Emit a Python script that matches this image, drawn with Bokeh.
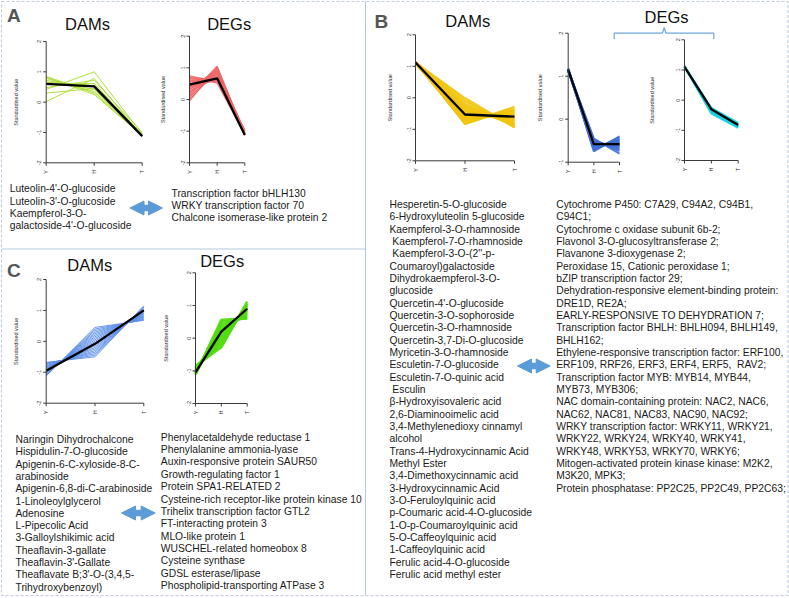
import math
from bokeh.plotting import figure
from bokeh.models import Range1d, Arrow, NormalHead
from bokeh.core.properties import value
from bokeh.embed import file_html
from bokeh.resources import INLINE

FONT = "Liberation Sans"
NB = "\u00a0"

# Sampling stages on the x axis of every profile chart
stages = ["Y", "H", "T"]

# ---- Panel A: profiles (standardised values at Y, H, T) ----
a_dam_profiles = [
    [0.85, 0.30, -1.12], [0.82, 0.25, -1.10], [0.78, 0.35, -1.08],
    [0.72, 0.42, -1.12], [0.66, 0.55, -1.05], [0.58, 0.62, -1.10],
    [0.48, 0.72, -1.00], [0.42, 1.00, -1.05], [0.30, 0.45, -1.10],
    [0.02, 0.78, -1.12],
]
a_dam_center = [0.60, 0.52, -1.12]

a_deg_profiles = [
    [0.75, 0.55, -1.10], [0.72, 0.60, -1.05], [0.70, 0.52, -1.12],
    [0.66, 0.62, -0.98], [0.62, 0.58, -1.08], [0.60, 0.70, -1.12],
    [0.57, 0.65, -1.02], [0.54, 0.75, -1.10], [0.50, 0.68, -0.96],
    [0.48, 0.80, -1.12], [0.45, 0.72, -1.06], [0.42, 0.85, -1.10],
    [0.40, 0.62, -1.00], [0.36, 0.90, -1.12], [0.33, 0.78, -1.04],
    [0.30, 0.95, -1.10], [0.26, 0.70, -1.12], [0.22, 1.00, -1.08],
    [0.18, 0.88, -0.98], [0.14, 1.05, -1.12], [0.10, 0.82, -1.06],
    [0.05, 0.98, -1.10], [0.00, 0.92, -1.12], [-0.05, 1.02, -1.04],
]
a_deg_center = [0.47, 0.67, -1.12]

# ---- Panel B ----
b_dam_profiles = [
    [1.15, -0.85, -0.30], [1.12, -0.82, -0.35], [1.10, -0.80, -0.28],
    [1.14, -0.78, -0.40], [1.08, -0.75, -0.38], [1.12, -0.72, -0.45],
    [1.16, -0.70, -0.42], [1.10, -0.68, -0.50], [1.13, -0.66, -0.48],
    [1.09, -0.64, -0.55], [1.15, -0.62, -0.52], [1.11, -0.60, -0.58],
    [1.07, -0.58, -0.60], [1.13, -0.56, -0.62], [1.10, -0.54, -0.66],
    [1.14, -0.52, -0.64], [1.12, -0.50, -0.70], [1.08, -0.48, -0.68],
    [1.16, -0.45, -0.74], [1.11, -0.42, -0.72], [1.09, -0.40, -0.78],
    [1.13, -0.37, -0.80], [1.10, -0.33, -0.84], [1.12, -0.30, -0.82],
    [1.15, -0.26, -0.88], [1.08, -0.22, -0.86], [1.11, -0.18, -0.92],
    [1.14, -0.12, -0.90], [1.10, -0.06, -0.95], [1.12, 0.00, -0.93],
]
b_dam_center = [1.12, -0.53, -0.60]

b_deg1_profiles = [
    [1.18, -0.75, -0.40], [1.16, -0.72, -0.45], [1.14, -0.70, -0.42],
    [1.17, -0.68, -0.48], [1.13, -0.66, -0.50], [1.15, -0.64, -0.52],
    [1.12, -0.62, -0.55], [1.16, -0.60, -0.56], [1.14, -0.58, -0.60],
    [1.17, -0.56, -0.62], [1.13, -0.54, -0.64], [1.15, -0.52, -0.66],
    [1.16, -0.50, -0.70], [1.12, -0.48, -0.74], [1.14, -0.45, -0.80],
]
b_deg1_center = [1.15, -0.58, -0.58]

b_deg2_profiles = [
    [1.12, -0.45, -0.92], [1.10, -0.42, -0.88], [1.14, -0.38, -0.85],
    [1.09, -0.35, -0.90], [1.11, -0.33, -0.80], [1.13, -0.30, -0.86],
    [1.10, -0.28, -0.78], [1.12, -0.25, -0.75],
]
b_deg2_center = [1.10, -0.30, -0.82]

# ---- Panel C ----
c_dam_profiles = [
    [-0.68, -0.50, 1.15], [-0.70, -0.45, 1.12], [-0.72, -0.40, 1.10],
    [-0.75, -0.35, 1.08], [-0.78, -0.30, 1.05], [-0.80, -0.25, 1.02],
    [-0.83, -0.20, 1.00], [-0.86, -0.15, 0.98], [-0.88, -0.10, 0.95],
    [-0.90, -0.05, 0.92], [-0.93, 0.00, 0.90], [-0.96, 0.05, 0.88],
    [-0.98, 0.10, 0.85], [-1.00, 0.15, 0.82], [-1.02, 0.20, 0.80],
    [-1.05, 0.25, 0.78], [-1.07, 0.30, 0.75], [-1.09, 0.35, 0.72],
    [-1.10, 0.40, 0.70], [-1.12, 0.45, 0.68],
]
c_dam_center = [-0.95, -0.08, 1.00]

c_deg_profiles = [
    [-0.85, -0.28, 1.12], [-0.88, -0.20, 1.05], [-0.90, -0.12, 1.00],
    [-0.93, -0.05, 0.95], [-0.96, 0.02, 0.90], [-0.98, 0.10, 0.85],
    [-1.00, 0.18, 0.80], [-1.03, 0.26, 0.75], [-1.06, 0.34, 0.70],
    [-1.08, 0.42, 0.66], [-1.10, 0.50, 0.62], [-1.12, 0.56, 0.60],
]
c_deg_center = [-1.05, 0.20, 0.90]

# ---- Name lists ----
a_dam_names = [
    "Luteolin-4'-O-glucoside",
    "Luteolin-3'-O-glucoside",
    "Kaempferol-3-O-",
    "galactoside-4'-O-glucoside",
]
a_deg_names = [
    "Transcription factor bHLH130",
    "WRKY transcription factor 70",
    "Chalcone isomerase-like protein 2",
]
b_dam_names = [
    "Hesperetin-5-O-glucoside",
    "6-Hydroxyluteolin 5-glucoside",
    "Kaempferol-3-O-rhamnoside",
    NB + "Kaempferol-7-O-rhamnoside",
    NB + "Kaempferol-3-O-(2''-p-",
    "Coumaroyl)galactoside",
    "Dihydrokaempferol-3-O-",
    "glucoside",
    "Quercetin-4'-O-glucoside",
    "Quercetin-3-O-sophoroside",
    "Quercetin-3-O-rhamnoside",
    "Quercetin-3,7-Di-O-glucoside",
    "Myricetin-3-O-rhamnoside",
    "Esculetin-7-O-glucoside",
    "Esculetin-7-O-quinic acid",
    NB + "Esculin",
    "\u03b2-Hydroxyisovaleric acid",
    "2,6-Diaminooimelic acid",
    "3,4-Methylenedioxy cinnamyl",
    "alcohol",
    "Trans-4-Hydroxycinnamic Acid",
    "Methyl Ester",
    "3,4-Dimethoxycinnamic acid",
    "3-Hydroxycinnamic Acid",
    "3-O-Feruloylquinic acid",
    "p-Coumaric acid-4-O-glucoside",
    "1-O-p-Coumaroylquinic acid",
    "5-O-Caffeoylquinic acid",
    "1-Caffeoylquinic acid",
    "Ferulic acid-4-O-glucoside",
    "Ferulic acid methyl ester",
]
b_deg_names = [
    "Cytochrome P450: C7A29, C94A2, C94B1,",
    "C94C1;",
    "Cytochrome c oxidase subunit 6b-2;",
    "Flavonol 3-O-glucosyltransferase 2;",
    "Flavanone 3-dioxygenase 2;",
    "Peroxidase 15, Cationic peroxidase 1;",
    "bZIP transcription factor 29;",
    "Dehydration-responsive element-binding protein:",
    "DRE1D, RE2A;",
    "EARLY-RESPONSIVE TO DEHYDRATION 7;",
    "Transcription factor BHLH: BHLH094, BHLH149,",
    "BHLH162;",
    "Ethylene-responsive transcription factor: ERF100,",
    "ERF109, RRF26, ERF3, ERF4, ERF5," + NB + " RAV2;",
    "Transcription factor MYB: MYB14, MYB44,",
    "MYB73, MYB306;",
    "NAC domain-containing protein: NAC2, NAC6,",
    "NAC62, NAC81, NAC83, NAC90, NAC92;",
    "WRKY transcription factor: WRKY11, WRKY21,",
    "WRKY22, WRKY24, WRKY40, WRKY41,",
    "WRKY48, WRKY53, WRKY70, WRKY6;",
    "Mitogen-activated protein kinase kinase: M2K2,",
    "M3K20, MPK3;",
    "Protein phosphatase: PP2C25, PP2C49, PP2C63;",
]
c_dam_names = [
    "Naringin Dihydrochalcone",
    "Hispidulin-7-O-glucoside",
    "Apigenin-6-C-xyloside-8-C-",
    "arabinoside",
    "Apigenin-6,8-di-C-arabinoside",
    "1-Linoleoylglycerol",
    "Adenosine",
    "L-Pipecolic Acid",
    "3-Galloylshikimic acid",
    "Theaflavin-3-gallate",
    "Theaflavin-3'-Gallate",
    "Theaflavate B;3'-O-(3,4,5-",
    "Trihydroxybenzoyl)",
]
c_deg_names = [
    "Phenylacetaldehyde reductase 1",
    "Phenylalanine ammonia-lyase",
    "Auxin-responsive protein SAUR50",
    "Growth-regulating factor 1",
    "Protein SPA1-RELATED 2",
    "Cysteine-rich receptor-like protein kinase 10",
    "Trihelix transcription factor GTL2",
    "FT-interacting protein 3",
    "MLO-like protein 1",
    "WUSCHEL-related homeobox 8",
    "Cysteine synthase",
    "GDSL esterase/lipase",
    "Phospholipid-transporting ATPase 3",
]

W, H = 789, 598
p = figure(width=W, height=H, x_range=Range1d(0, W), y_range=Range1d(H, 0),
           output_backend="svg", toolbar_location=None, min_border=0)
p.axis.visible = False
p.grid.visible = False
p.outline_line_color = None
p.background_fill_color = "white"

# panel frames
frame_col = "#b3c9df"
p.line([1, 787.5, 787.5, 1, 1], [1, 1, 595, 595, 1], line_color="#c3cedc",
       line_width=1.2, line_dash="3 2")
p.line([365, 365], [1, 595], line_color=frame_col, line_width=1)
p.line([1, 365], [248.5, 248.5], line_color=frame_col, line_width=1)

AX_COL = "#3a3a3a"


def profile_chart(x_left, x_right, y_top, y_bottom, y_lo, y_hi, y_ticks,
                  profiles, center, color, ylabel_x, line_alpha=0.9,
                  line_width=1.0):
    idx = list(range(len(stages)))
    sp = p.subplot(x_source=Range1d(0, len(stages) - 1),
                   y_source=Range1d(y_lo, y_hi),
                   x_target=Range1d(x_left, x_right),
                   y_target=Range1d(y_bottom, y_top))
    sp.multi_line(xs=[idx] * len(profiles), ys=profiles, line_color=color,
                  line_width=line_width, line_alpha=line_alpha)
    sp.line(idx, center, line_color="black", line_width=2.3)

    # axes
    x_unit = (len(stages) - 1) / (x_right - x_left)
    y_unit = (y_hi - y_lo) / (y_bottom - y_top)
    tick = 3.0
    sp.segment(x0=[0, 0], y0=[y_lo, y_lo], x1=[0, idx[-1]], y1=[y_hi, y_lo],
               line_color=AX_COL, line_width=1)
    n = len(y_ticks)
    sp.segment(x0=[0] * n, y0=y_ticks, x1=[-tick * x_unit] * n, y1=y_ticks,
               line_color=AX_COL, line_width=1)
    sp.segment(x0=idx, y0=[y_lo] * len(idx), x1=idx,
               y1=[y_lo - tick * y_unit] * len(idx),
               line_color=AX_COL, line_width=1)
    sp.text(x=[0] * n, y=y_ticks, text=[str(t) for t in y_ticks],
            angle=math.pi / 2, x_offset=-7, text_align="center",
            text_baseline="middle", text_font=value(FONT),
            text_font_size="5.5px", text_color="#333333")
    sp.text(x=idx, y=[y_lo] * len(idx), text=stages, angle=math.pi / 2,
            y_offset=9, text_align="center", text_baseline="middle",
            text_font=value(FONT), text_font_size="5.5px",
            text_color="#333333")
    p.text(x=[ylabel_x], y=[(y_top + y_bottom) / 2],
           text=["Standardised value"], angle=math.pi / 2,
           text_align="center", text_baseline="middle",
           text_font=value(FONT), text_font_size="5.5px",
           text_color="#333333")


ticks4 = [-2, -1, 0, 1, 2]
profile_chart(45.7, 141.7, 41, 162.3, -2, 2, ticks4, a_dam_profiles,
              a_dam_center, "#a6dc2a", 15)
profile_chart(189, 244.3, 35.7, 162.3, -2, 2, ticks4, a_deg_profiles,
              a_deg_center, "#f06767", 162.3, line_width=1.2)
profile_chart(415, 514, 34.3, 160.3, -2, 2, ticks4, b_dam_profiles,
              b_dam_center, "#f2c40c", 389, line_width=1.6)
profile_chart(567.7, 619, 32.7, 161.7, -1, 2, [-1, 0, 1, 2],
              b_deg1_profiles, b_deg1_center, "#3f6fd8", 539, line_width=2)
profile_chart(684, 737.7, 39.3, 160, -2, 2, ticks4, b_deg2_profiles,
              b_deg2_center, "#12d2de", 651.7, line_width=1.8)
profile_chart(45.7, 143.3, 279, 402.7, -2, 2, ticks4, c_dam_profiles,
              c_dam_center, "#5b8ee8", 15)
profile_chart(195, 246.7, 272.3, 403, -2, 2, ticks4, c_deg_profiles,
              c_deg_center, "#4fdc0c", 165.7, line_width=2.6)

# titles
titles = ["DAMs", "DEGs", "DAMs", "DEGs", "DAMs", "DEGs"]
p.text(x=[87, 228.7, 467.3, 666, 89.3, 221.7],
       y=[23, 23, 20, 16.7, 264.3, 260], text=titles,
       text_align="center", text_baseline="middle", text_font=value(FONT),
       text_font_size="16.5px", text_color="#111111")

# panel letters
p.text(x=[6.5, 374, 6.5], y=[15, 21, 269.5], text=["A", "B", "C"],
       text_align="left", text_baseline="middle", text_font=value(FONT),
       text_font_style="bold", text_font_size="19px", text_color="#555555")

# bracket grouping the two DEG charts in panel B
p.line([613.7, 613.7, 662, 663.7, 665.4, 713.3, 713.3],
       [38.5, 32.7, 32.7, 27, 32.7, 32.7, 38.5],
       line_color="#6ea6dc", line_width=1.2)


def name_list(names, x, y0, step):
    p.text(x=[x] * len(names), y=[y0 + i * step for i in range(len(names))],
           text=names, text_align="left", text_baseline="middle",
           text_font=value(FONT), text_font_size="10.3px",
           text_color="#1a1a1a")


name_list(a_dam_names, 9.3, 188.3, 12.2)
name_list(a_deg_names, 171, 192.7, 12.0)
name_list(b_dam_names, 389, 204, 12.33)
name_list(b_deg_names, 555.7, 204, 12.33)
name_list(c_dam_names, 15, 439, 12.3)
name_list(c_deg_names, 160.3, 436.7, 12.36)

# double-headed arrows linking metabolites and genes
ARROW_COL = "#5b9bd8"
for xs, xe, yy in [(128.5, 163, 207.5), (516, 550.7, 365.5), (120, 155.7, 512.5)]:
    p.add_layout(Arrow(
        start=NormalHead(size=14, fill_color=ARROW_COL, line_color=ARROW_COL),
        end=NormalHead(size=14, fill_color=ARROW_COL, line_color=ARROW_COL),
        x_start=xs + 1, y_start=yy, x_end=xe - 1, y_end=yy,
        line_color=ARROW_COL, line_width=6.5))

open("out.html", "w").write(file_html(p, INLINE))
